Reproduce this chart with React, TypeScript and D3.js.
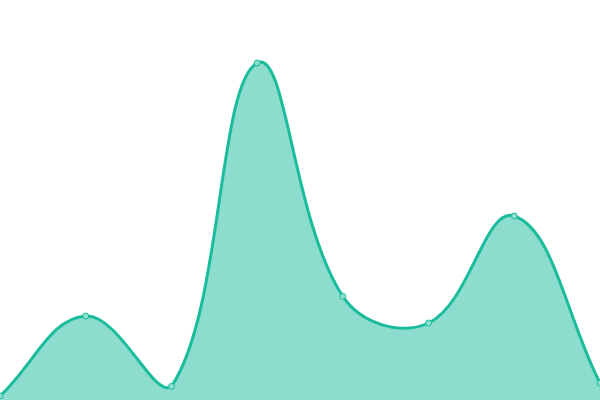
import React, { useEffect, useRef } from "react";
import * as d3 from "d3";

const labels = ["A", "B", "C", "D", "E", "F", "G", "H"];
const values = [1, 21, 3.4, 84.25, 25.9, 19.25, 46, 4.25];

const W = 600;
const H = 400;
const TENSION = 0.4;

type P = { x: number; y: number };

function controlPoints(pts: P[]) {
  const n = pts.length;
  const res: { prev: P; next: P }[] = [];
  for (let i = 0; i < n; i++) {
    const prev = pts[Math.max(0, i - 1)];
    const cur = pts[i];
    const next = pts[Math.min(n - 1, i + 1)];
    const d01 = Math.hypot(cur.x - prev.x, cur.y - prev.y);
    const d12 = Math.hypot(next.x - cur.x, next.y - cur.y);
    let s01 = d01 / (d01 + d12);
    let s12 = d12 / (d01 + d12);
    if (isNaN(s01)) s01 = 0;
    if (isNaN(s12)) s12 = 0;
    const fa = TENSION * s01;
    const fb = TENSION * s12;
    const clampX = (v: number) => Math.max(0, Math.min(W, v));
    const clampY = (v: number) => Math.max(0, Math.min(H, v));
    res.push({
      prev: { x: clampX(cur.x - fa * (next.x - prev.x)), y: clampY(cur.y - fa * (next.y - prev.y)) },
      next: { x: clampX(cur.x + fb * (next.x - prev.x)), y: clampY(cur.y + fb * (next.y - prev.y)) },
    });
  }
  return res;
}

export default function App() {
  const ref = useRef<SVGSVGElement>(null);
  useEffect(() => {
    const svg = d3.select(ref.current);
    svg.selectAll("*").remove();
    const x = d3.scalePoint<string>().domain(labels).range([0, W]);
    const y = d3.scaleLinear().domain([0, 100]).range([H, 0]);
    const pts: P[] = values.map((v, i) => ({ x: x(labels[i]) as number, y: y(v) }));
    const cps = controlPoints(pts);

    const line = d3.path();
    line.moveTo(pts[0].x, pts[0].y);
    for (let i = 1; i < pts.length; i++) {
      const a = cps[i - 1].next;
      const b = cps[i].prev;
      line.bezierCurveTo(a.x, a.y, b.x, b.y, pts[i].x, pts[i].y);
    }
    const lineStr = line.toString();
    const areaStr = lineStr + `L${pts[pts.length - 1].x},${y(0)}L${pts[0].x},${y(0)}Z`;

    svg.append("path").attr("d", areaStr).attr("fill", "rgba(26,188,156,0.5)").attr("stroke", "none");
    svg
      .append("path")
      .attr("d", lineStr)
      .attr("fill", "none")
      .attr("stroke", "#1abc9c")
      .attr("stroke-width", 3)
      .attr("stroke-linejoin", "round");
    svg
      .selectAll("circle")
      .data(pts)
      .join("circle")
      .attr("cx", (d) => d.x)
      .attr("cy", (d) => d.y)
      .attr("r", 3)
      .attr("fill", "rgba(140,222,206,1)")
      .attr("stroke", "#1abc9c")
      .attr("stroke-width", 1);
  }, []);
  return (
    <svg
      ref={ref}
      width={W}
      height={H}
      style={{ position: "fixed", left: 0, top: 0, display: "block", background: "#fff" }}
    />
  );
}
